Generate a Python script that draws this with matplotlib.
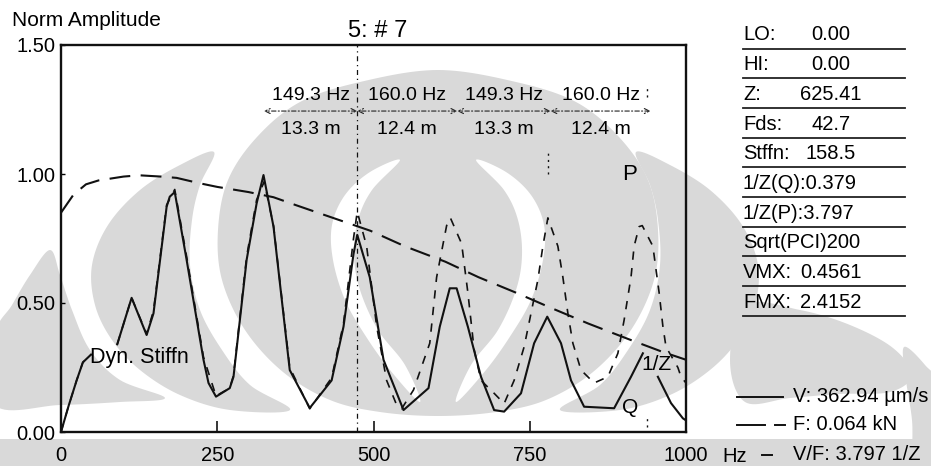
import numpy as np
import matplotlib.pyplot as plt
from matplotlib.patches import Polygon

plt.rcParams['font.family'] = ['Liberation Sans', 'DejaVu Sans']

W, H = 931, 466
nan = np.nan

# velocity spectrum V (normalised), gaps where labels sit on the trace
v_freq = [0, 12, 25, 35, 48, 70, 90, 113, 137, 148, 169, 174, 182, 201, 228, 236, 248,
          270, 276, 297, 313, 324, 340, 366, 398, 433, 452, 468, 474, 494, 516, 548,
          588, 606, 622, 633, 651, 672, 693, 709, 736, 757, 778, 800, 816, 837, 885,
          912, 931, 942, 955, 976, 995, 1000]
v_amp = [0.0, 0.10, 0.20, 0.27, 0.30, nan, 0.34, 0.52, 0.376, 0.46, 0.873, 0.912, 0.93,
         0.667, 0.28, 0.19, 0.137, 0.17, 0.214, 0.667, 0.886, 0.996, 0.796, 0.24, 0.093,
         0.20, 0.408, 0.69, 0.764, 0.60, 0.28, 0.085, 0.17, 0.408, 0.557, 0.557, 0.408,
         0.214, 0.085, 0.079, 0.15, 0.344, 0.447, 0.344, 0.20, 0.098, 0.092, 0.214,
         0.305, nan, 0.214, 0.112, 0.053, 0.045]

# mobility V/F (normalised)
m_freq = [0, 12, 25, 35, 48, 70, 90, 113, 137, 148, 169, 182, 201, 228, 248, 270, 276,
          297, 313, 325, 340, 366, 398, 433, 452, 468, 474, 489, 505, 521, 537, 545, 564,
          590, 601, 617, 623, 641, 651, 661, 672, 693, 709, 725, 741, 763, 771, 779, 795,
          803, 811, 819, 832, 853, 875, 891, 901, 912, 917, 925, 930, 947, 957, 963, 968,
          987, 992, 1000]
m_amp = [0.0, 0.10, 0.20, 0.27, 0.30, nan, 0.34, 0.52, 0.38, 0.47, 0.88, 0.94, 0.68,
         0.29, 0.14, 0.17, 0.22, 0.68, 0.90, 0.97, 0.80, 0.25, 0.09, 0.21, 0.42, 0.75,
         0.854, 0.72, 0.41, 0.20, 0.105, 0.09, 0.163, 0.344, 0.60, 0.80, 0.83, 0.73,
         0.54, 0.32, 0.20, 0.15, 0.11, 0.20, 0.33, 0.59, 0.72, 0.83, 0.72, 0.60, 0.46,
         0.344, 0.24, 0.19, 0.214, 0.305, 0.434, 0.60, 0.72, 0.796, 0.80, 0.72, 0.54,
         0.41, 0.33, 0.25, 0.214, 0.19]

# force spectrum F (normalised)
f_freq = [0, 20, 40, 60, 100, 125, 160, 185, 220, 250, 300, 340, 375, 435, 495, 550,
          615, 668, 728, 785, 844, 908, 963, 1000]
f_amp = [0.85, 0.92, 0.96, 0.975, 0.99, 0.995, 0.99, 0.985, 0.965, 0.95, 0.93, 0.91,
         0.88, 0.83, 0.78, 0.72, 0.66, 0.60, 0.54, 0.48, 0.42, 0.36, 0.31, 0.28]

marker_hz = 474.0
spacing_hz = [149.3, 160.0, 149.3, 160.0]
spacing_m = [13.3, 12.4, 13.3, 12.4]
harmonic_marks = [(779, 1.0, 1.08), (938, 1.30, 1.34), (938, 0.02, 0.06)]

panel_keys = ['LO:', 'HI:', 'Z:', 'Fds:', 'Stffn:', '1/Z(Q):', '1/Z(P):', 'Sqrt(PCI)', 'VMX:', 'FMX:']
panel_vals = ['0.00', '0.00', '625.41', '42.7', '158.5', '0.379', '3.797', '200', '0.4561', '2.4152']
joined_rows = {'1/Z(Q):', '1/Z(P):', 'Sqrt(PCI)'}

legend_texts = ['V: 362.94 \u00b5m/s', 'F: 0.064 kN', 'V/F: 3.797 1/Z']

WM = '#d9d9d9'
INK = '#111111'


def smooth(points, n=14):
    # closed Catmull-Rom outline for the background emblem
    p = np.asarray(points, float)
    m = len(p)
    t = np.linspace(0, 1, n, endpoint=False)[:, None]
    out = []
    for i in range(m):
        p0, p1, p2, p3 = p[i - 1], p[i], p[(i + 1) % m], p[(i + 2) % m]
        out.append(0.5 * (2 * p1 + (-p0 + p2) * t + (2 * p0 - 5 * p1 + 4 * p2 - p3) * t ** 2
                          + (-p0 + 3 * p1 - 3 * p2 + p3) * t ** 3))
    return np.vstack(out)


def mirror(points, axis=438):
    return [(2 * axis - x, y) for x, y in points]


fig = plt.figure(figsize=(W / 100, H / 100), dpi=100)
bg = fig.add_axes([0, 0, 1, 1])
bg.set_xlim(0, W)
bg.set_ylim(H, 0)
bg.axis('off')

# background emblem
dome = [(438, 70), (360, 82), (300, 102), (257, 137), (228, 180), (218, 230), (222, 280),
        (245, 330), (283, 372), (330, 400), (380, 412), (438, 416)]
dome = dome + mirror(dome[1:-1])[::-1]
crescent = [(400, 160), (370, 172), (345, 195), (332, 225), (333, 260), (345, 300),
            (365, 335), (390, 370), (420, 402), (405, 365), (378, 330), (360, 290),
            (354, 255), (358, 220), (372, 190)]
blade_b = [(214, 152), (180, 165), (140, 190), (108, 225), (92, 265), (95, 305), (112, 340),
           (140, 370), (180, 395), (230, 410), (290, 410), (250, 385), (222, 350), (200, 310),
           (190, 265), (192, 220), (200, 185)]
blade_a = [(50, 250), (30, 275), (12, 305), (-5, 335), (-5, 405), (60, 405), (120, 402),
           (165, 398), (120, 380), (90, 350), (72, 310), (60, 275)]
blade_a2 = [(745, 305), (800, 310), (850, 325), (893, 348), (912, 375), (890, 392),
            (840, 394), (790, 398), (745, 402), (730, 360)]
edge_blade = [(904, 347), (925, 365), (940, 390), (940, 470), (915, 470), (912, 420), (906, 380)]
shapes = [(dome, WM), (crescent, 'white'), (mirror(crescent), 'white'),
          (blade_b, WM), (mirror(blade_b, 425), WM), (blade_a, WM),
          (blade_a2, WM), (edge_blade, WM)]
for shape, col in shapes:
    bg.add_patch(Polygon(smooth(shape), closed=True, fc=col, ec='none', zorder=0))
bg.add_patch(Polygon([(-5, 439), (W + 5, 439), (W + 5, H + 5), (-5, H + 5)],
                     closed=True, fc=WM, ec='none', zorder=0))

ax = fig.add_axes([61 / W, 1 - 432 / H, 625 / W, 387 / H])
ax.set_facecolor('none')
ax.set_xlim(0, 1000)
ax.set_ylim(0, 1.5)

ax.plot(f_freq, f_amp, color=INK, lw=1.5, dashes=(10, 5))
ax.plot(m_freq, m_amp, color=INK, lw=1.2, dashes=(5, 5))
ax.plot(v_freq, v_amp, color=INK, lw=1.5)

ax.axvline(marker_hz, color=INK, lw=0.9, dashes=(4, 3, 1, 3))
for hz, lo, hi in harmonic_marks:
    ax.plot([hz, hz], [lo, hi], color=INK, lw=1.0, dashes=(1.5, 3))

# dimension arrows between the marker and its neighbours
edges = [marker_hz - spacing_hz[0], marker_hz]
for s in spacing_hz[1:]:
    edges.append(edges[-1] + s)
for i, (hz, m) in enumerate(zip(spacing_hz, spacing_m)):
    a, b = edges[i], edges[i + 1]
    ax.annotate('', xy=(a, 1.244), xytext=(b, 1.244),
                arrowprops=dict(arrowstyle='<->', color='#222222', lw=0.8,
                                linestyle=(0, (4, 2, 1, 2)), mutation_scale=9,
                                shrinkA=0, shrinkB=0))
    ax.text((a + b) / 2, 1.306, f'{hz:.1f} Hz', ha='center', va='center', fontsize=14)
    ax.text((a + b) / 2, 1.171, f'{m:.1f} m', ha='center', va='center', fontsize=14)

ax.text(46, 0.29, 'Dyn. Stiffn', ha='left', va='center', fontsize=15.5)
ax.text(909, 1.0, 'P', ha='center', va='center', fontsize=16)
ax.text(911, 0.095, 'Q', ha='center', va='center', fontsize=15)
ax.text(952, 0.26, '1/Z', ha='center', va='center', fontsize=15)

ax.set_xticks([0, 250, 500, 750, 1000])
ax.set_xticklabels(['0', '250', '500', '750', '1000'])
ax.set_yticks([0, 0.5, 1.0, 1.5])
ax.set_yticklabels([f'{v:.2f}' for v in [0, 0.5, 1.0, 1.5]])
ax.tick_params(axis='x', direction='in', length=8, width=1.1, labelsize=14.5, pad=10)
ax.tick_params(axis='y', direction='in', length=3, width=1.0, labelsize=14.5, pad=4)
for sp in ax.spines.values():
    sp.set_linewidth(1.7)
    sp.set_color(INK)

bg.text(12, 20, 'Norm Amplitude', ha='left', va='center', fontsize=15)
bg.text(378, 31, '5: # 7', ha='center', va='center', fontsize=17)
bg.text(735, 456, 'Hz', ha='center', va='center', fontsize=14.5)

# parameter table
row_y = 35 + 29.7 * np.arange(len(panel_keys))
for y, k, v in zip(row_y, panel_keys, panel_vals):
    if k in joined_rows:
        bg.text(743, y, k + v, ha='left', va='center', fontsize=14.5)
    else:
        bg.text(743, y, k, ha='left', va='center', fontsize=14.5)
        bg.text(831, y, v, ha='center', va='center', fontsize=14.5)
    bg.plot([743, 905], [y + 13.5, y + 13.5], color='#222222', lw=1.3)

# trace key
leg_y = [397, 425, 455]
bg.plot([737, 783], [leg_y[0]] * 2, color=INK, lw=1.4)
bg.plot([737, 765], [leg_y[1]] * 2, color=INK, lw=1.4)
bg.plot([775, 785], [leg_y[1]] * 2, color=INK, lw=1.4)
bg.plot([762, 772], [leg_y[2]] * 2, color=INK, lw=1.4)
for y, t in zip(leg_y, legend_texts):
    bg.text(793, y, t, ha='left', va='center', fontsize=14.5)

fig.savefig('out.png', dpi=100)
